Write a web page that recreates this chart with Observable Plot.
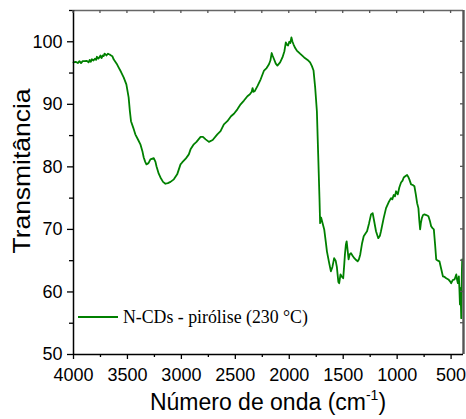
<!DOCTYPE html>
<html><head><meta charset="utf-8">
<script src="https://cdn.jsdelivr.net/npm/d3@7"></script>
<script src="https://cdn.jsdelivr.net/npm/@observablehq/plot@0.6"></script>
<style>html,body{margin:0;padding:0;background:#fff}svg{display:block}</style>
</head><body><div id="chart"></div>
<script>
const wavenumber = [4000,3980,3960,3945,3930,3915,3900,3876,3860,3850,3840,3830,3815,3800,3790,3783,3770,3760,3750,3740,3730,3720,3712,3705,3695,3680,3670,3659,3640,3628,3600,3582,3560,3535,3510,3489,3478,3467,3445,3427,3400,3380,3360,3349,3335,3324,3305,3287,3256,3240,3231,3210,3194,3170,3148,3125,3101,3070,3039,3008,2993,2960,2931,2915,2885,2860,2822,2800,2775,2745,2710,2667,2637,2606,2574,2540,2513,2481,2451,2420,2388,2365,2348,2340,2332,2320,2295,2265,2234,2210,2188,2175,2163,2155,2141,2125,2110,2085,2063,2045,2032,2020,2011,2000,1990,1980,1970,1961,1945,1930,1900,1862,1830,1807,1790,1775,1760,1744,1732,1720,1714,1705,1691,1676,1660,1651,1630,1614,1600,1584,1570,1559,1545,1537,1525,1515,1500,1490,1484,1475,1468,1458,1450,1440,1428,1410,1397,1380,1366,1355,1342,1325,1310,1295,1279,1260,1242,1227,1215,1196,1175,1160,1150,1125,1103,1080,1057,1045,1032,1020,1010,994,980,964,950,939,925,908,897,887,871,855,840,827,815,803,795,787,780,771,760,747,730,710,697,685,672,660,648,638,622,608,592,576,560,545,525,510,499,485,468,460,452,445,437,432,428,423,418,415,412,409,406,403,400,397];
const transmittance = [96.7,96.8,96.6,96.9,96.6,96.9,96.9,96.95,96.7,97.1,96.8,97.2,97.0,97.3,97.1,97.6,97.3,97.5,97.8,97.4,97.8,97.7,98.1,98.0,97.8,98.1,98.0,97.9,97.7,97.2,96.5,95.9,95.2,94.3,93.2,91.1,89.0,87.3,86.2,85.2,84.3,83.6,82.4,81.5,80.8,80.4,80.6,81.2,81.4,80.8,80.1,78.9,78.3,77.6,77.3,77.4,77.6,78.0,78.8,80.4,80.7,81.3,82.0,82.8,83.6,84.0,84.8,84.8,84.4,84.0,84.3,85.2,85.7,86.8,87.3,88.1,88.5,89.2,90.0,90.6,91.3,91.6,92.0,92.6,92.0,92.1,92.9,94.0,95.4,95.8,96.4,97.0,98.2,97.8,97.2,96.5,96.2,96.7,97.5,98.5,99.9,99.5,99.4,100.0,99.8,100.7,100.0,99.6,99.0,98.6,98.1,97.5,97.1,96.7,96.1,95.4,92.7,88.9,82.0,75.0,71.0,71.9,71.0,70.0,67.8,66.5,64.6,63.3,64.0,65.4,65.0,64.0,61.6,61.4,62.8,62.5,62.2,64.5,66.0,67.6,68.1,66.5,65.2,66.0,66.2,65.7,65.4,65.1,64.9,65.2,66.0,67.8,68.9,69.3,69.7,71.0,72.4,72.6,71.5,69.7,68.6,69.0,69.7,71.8,73.4,74.3,75.0,74.8,75.5,75.3,76.1,75.6,76.7,77.5,77.8,78.3,78.5,78.7,78.4,78.0,77.2,77.1,76.9,75.6,74.2,73.4,71.5,70.0,71.0,71.8,72.3,72.4,72.3,72.1,71.4,70.5,70.2,70.0,67.5,65.2,65.0,64.9,63.7,62.5,62.4,62.2,62.0,61.7,61.4,61.9,62.0,62.4,62.8,62.0,61.4,62.0,62.5,60.5,58.0,60.0,60.6,58.0,55.8,60.0,63.3,65.2];
const xDomain = [4000, 385];
const yDomain = [50, 105];
const xTicks = [4000,3500,3000,2500,2000,1500,1000,500];
const xMinorTicks = [3750,3250,2750,2250,1750,1250,750];
const yTicks = [50,60,70,80,90,100];
const yMinorTicks = [55,65,75,85,95,105];
const rightTicks = [55,60,65,70,75,80,85,90,95,100];
const seriesLabel = "N-CDs - pirólise (230 °C)";
const xTitle = "Número de onda (cm";
const xTitleSup = "-1";
const yTitle = "Transmitância";

const data = wavenumber.map((x, i) => ({x, y: transmittance[i]}));
const green = "#008000";

const chart = Plot.plot({
  width: 466, height: 419,
  marginLeft: 73, marginRight: 3, marginTop: 10, marginBottom: 65,
  style: {fontFamily: "'Liberation Sans', Arial, sans-serif", fontSize: "18px", color: "#000", background: "#fff"},
  x: {domain: xDomain},
  y: {domain: yDomain},
  marks: [
    Plot.line(data, {x: "x", y: "y", stroke: green, strokeWidth: 1.8}),
    Plot.axisX({ticks: xTicks, tickSize: 5, tickPadding: 9, tickFormat: d => String(d), label: null, fontSize: 18, strokeWidth: 1.3}),
    Plot.axisX({ticks: xMinorTicks, tickSize: 3, tickFormat: () => "", label: null, strokeWidth: 1.3}),
    Plot.axisY({ticks: yTicks, tickSize: 6, tickPadding: 5, tickFormat: d => String(d), label: null, fontSize: 18, strokeWidth: 1.3}),
    Plot.axisY({ticks: yMinorTicks, tickSize: 4, tickFormat: () => "", label: null, strokeWidth: 1.3}),
    Plot.ruleY([yDomain[1]], {stroke: "#666", strokeWidth: 1.6}),
    Plot.ruleX([xDomain[1]], {stroke: "#555", strokeWidth: 2.4}),
    Plot.ruleX([xDomain[0]], {stroke: "#000", strokeWidth: 1.5}),
    Plot.ruleY([yDomain[0]], {stroke: "#000", strokeWidth: 1.5})
  ]
});

document.getElementById("chart").appendChild(chart);

const sx = chart.scale("x"), sy = chart.scale("y");
const svg = d3.select(chart);
const xL = sx.apply(xDomain[0]), xR = sx.apply(xDomain[1]);
const yT = sy.apply(yDomain[1]), yB = sy.apply(yDomain[0]);

// inward ticks on top and right frame edges
const g = svg.append("g").attr("stroke", "#555").attr("stroke-width", 1.3);
g.selectAll(".tt").data(xTicks.concat(xMinorTicks)).join("line")
  .attr("x1", d => sx.apply(d)).attr("x2", d => sx.apply(d))
  .attr("y1", yT).attr("y2", yT + 3);
g.selectAll(".rt").data(rightTicks).join("line")
  .attr("x1", xR).attr("x2", xR - 3)
  .attr("y1", d => sy.apply(d)).attr("y2", d => sy.apply(d));

// legend
const lg = svg.append("g");
lg.append("line").attr("x1", xL + 5).attr("x2", xL + 45).attr("y1", 317).attr("y2", 317)
  .attr("stroke", green).attr("stroke-width", 1.8);
lg.append("text").attr("x", xL + 50).attr("y", 322.5).attr("text-anchor", "start")
  .attr("font-family", "'Liberation Serif', 'Times New Roman', serif").attr("font-size", 17.8)
  .attr("fill", "#000").text(seriesLabel);

// axis titles
const xt = svg.append("text").attr("x", (xL + xR) / 2).attr("y", 410)
  .attr("text-anchor", "middle").attr("font-family", "'Liberation Sans', Arial, sans-serif")
  .attr("font-size", 23).attr("fill", "#000");
xt.append("tspan").text(xTitle);
xt.append("tspan").attr("dy", -10).attr("font-size", 14).text(xTitleSup);
xt.append("tspan").attr("dy", 10).text(")");

svg.append("text").attr("transform", `translate(30,${(yT + yB) / 2 - 11}) rotate(-90)`)
  .attr("text-anchor", "middle").attr("font-family", "'Liberation Sans', Arial, sans-serif")
  .attr("font-size", 24).attr("fill", "#000").attr("textLength", 165).attr("lengthAdjust", "spacingAndGlyphs")
  .text(yTitle);
</script>
</body></html>
